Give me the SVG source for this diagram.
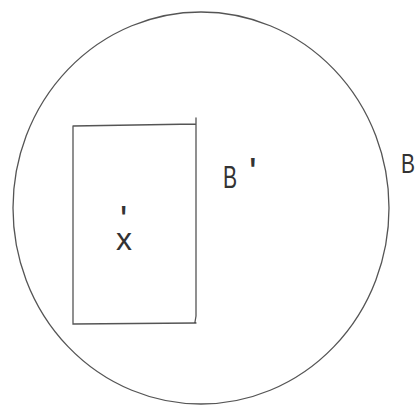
<svg xmlns="http://www.w3.org/2000/svg" width="415" height="407" viewBox="0 0 415 407">
<style>
.ln{fill:none;stroke:#555;stroke-width:1.3;stroke-linecap:round}
.t{font-family:"Liberation Sans","DejaVu Sans",sans-serif;fill:#333;font-weight:normal}
</style>
<rect width="415" height="407" fill="#ffffff"/>
<g id="set-B">
<ellipse class="ln" cx="201" cy="208" rx="188" ry="196"/>
<text class="t" x="0" y="0" font-size="28" transform="translate(401,173) scale(0.75,1)">B</text>
</g>
<g id="set-Bprime">
<text class="t" x="0" y="0" font-size="32" transform="translate(223,188) scale(0.66,1)">B</text>
<text class="t" x="249" y="186" font-size="40">'</text>
</g>
<g id="rect-x">
<path class="ln" d="M73,126 L73,324 L196,323 M73,126 L196,124 M196,118 L196,316 L195,322"/>
<text class="t" font-size="32"><tspan x="120" y="233" font-size="38">'</tspan><tspan x="116" y="250">x</tspan></text>
</g>
</svg>
